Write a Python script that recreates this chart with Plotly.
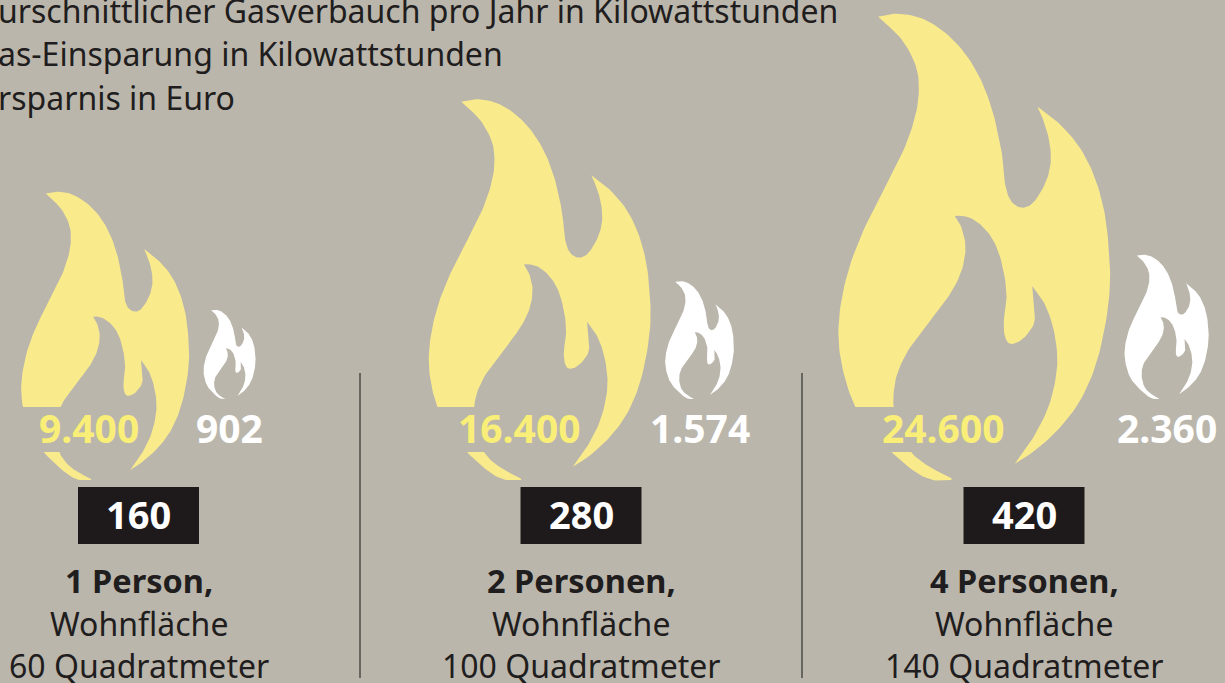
import numpy as np
import plotly.graph_objects as go

# --- data ---
consumption_kwh = [9400, 16400, 24600]
saving_kwh = [902, 1574, 2360]
saving_labels = ["902", "1.574", "2.360"]
consumption_labels = ["9.400", "16.400", "24.600"]
euro_saving = ["160", "280", "420"]
household = ["1 Person,", "2 Personen,", "4 Personen,"]
area_line = ["Wohnfläche", "Wohnfläche", "Wohnfläche"]
area_sqm = ["60 Quadratmeter", "100 Quadratmeter", "140 Quadratmeter"]
legend_lines = ["urschnittlicher Gasverbauch pro Jahr in Kilowattstunden",
                "as-Einsparung in Kilowattstunden",
                "rsparnis in Euro"]

BG = "#BBB6AB"; YEL = "#F9EB8C"; YEL_T = "#F9EF78"; DARK = "#1E1A1B"; TXT = "#1F1D1D"
REF = 24600.0
col_center = [138.5, 581, 1024]
y_cx = [105, 539.5, 974]
w_cx = [229.5, 699.5, 1166.5]
yel_label_x = [88.5, 519.5, 943]
wht_label_x = [229, 699.5, 1167]
band_left = [10, 420, 830]
band_right = [142, 583, 1007]
FONT = "Noto Sans"

# flame glyph: smooth runs between sharp corners, drawn in glyph units
FLAME = [[(175,47),(230,38),(300,50),(370,90),(430,150),(480,230),(515,320),(535,400),(548,470),(555,545),(572,598),(605,620),(640,605),(675,550),(692,490),(690,430),(675,370),(653,317)],
         [(653,317),(720,370),(780,440),(825,530),(855,640),(868,760),(870,860),(855,980),(825,1100),(780,1200),(720,1280),(650,1345),(585,1388)],
         [(585,1388),(640,1310),(685,1220),(708,1130),(712,1060),(700,980),(675,910),(637,855)],
         [(637,855),(645,950),(630,990),(600,1020),(570,1028),(555,1005),(552,960),(560,900),(555,830),(535,750),(505,695),(465,658),(430,645),(405,645)],
         [(405,645),(425,680),(437,740),(425,810),(390,880),(330,960),(270,1040),(235,1110),(222,1170),(222,1222),(240,1300),(275,1355),(325,1395),(395,1432)],
         [(395,1432),(395,1437)],
         [(395,1437),(340,1437),(285,1412),(217,1355),(150,1285),(108,1222),(75,1130),(57,1030),(60,930),(85,810),(130,690),(190,570),(250,450),(285,350),(297,270),(288,195),(245,115),(175,47)]]


def smooth(runs):
    xs, ys = [], []
    for run in runs:
        p = np.array(run, float)
        if len(p) < 3:
            xs += list(p[:, 0]); ys += list(p[:, 1]); continue
        q = np.vstack([2*p[0]-p[1], p, 2*p[-1]-p[-2]])
        for i in range(1, len(q)-2):
            t = np.linspace(0, 1, 8, endpoint=False)[:, None]
            a, b, c, d = q[i-1], q[i], q[i+1], q[i+2]
            s = 0.5*((2*b)+(-a+c)*t+(2*a-5*b+4*c-d)*t**2+(-a+3*b-3*c+d)*t**3)
            xs += list(s[:, 0]); ys += list(s[:, 1])
        xs.append(p[-1, 0]); ys.append(p[-1, 1])
    return np.array(xs), np.array(ys)


def flame(fig, value, cx, bottom, color):
    k = np.sqrt(value/REF)/3.0     # area proportional to value
    x, y = smooth(FLAME)
    fig.add_trace(go.Scatter(x=cx+(x-462.5)*k, y=bottom+(y-1437)*k, mode="lines", fill="toself",
                             fillcolor=color, line=dict(width=0, color=color), hoverinfo="skip", showlegend=False))


fig = go.Figure()
for i in range(3):
    flame(fig, consumption_kwh[i], y_cx[i], 480, YEL)
    flame(fig, saving_kwh[i], w_cx[i], 399, "#FFFFFF")


def txt(x, y, s, size, color, bold=False, anchor="center", xshift=0):
    fig.add_annotation(x=x, y=y, text=f"<b>{s}</b>" if bold else s, showarrow=False, xanchor=anchor, yanchor="middle",
                       xref="x", yref="y", font=dict(family=FONT, size=size, color=color), align=anchor,
                       borderpad=0, borderwidth=0, xshift=xshift)


shapes = []
for i in range(3):
    c = col_center[i]
    # knock-out band the value label sits in
    shapes.append(dict(type="rect", x0=band_left[i], x1=band_right[i], y0=407, y1=452, fillcolor=BG, line=dict(width=0), xref="x", yref="y"))
    shapes.append(dict(type="rect", x0=c-60.5, x1=c+60.5, y0=487, y1=544, fillcolor=DARK, line=dict(width=0), xref="x", yref="y"))
    txt(c, 514, euro_saving[i], 38, "#FFFFFF", True)
    txt(yel_label_x[i], 427, consumption_labels[i], 39, YEL_T, True)
    txt(wht_label_x[i], 427, saving_labels[i], 39, "#FFFFFF", True)
    txt(c, 580, household[i], 32.5, TXT, True)
    txt(c, 623, area_line[i], 32, TXT)
    txt(c, 665, area_sqm[i], 32, TXT)
for sx in (360, 802):
    shapes.append(dict(type="line", x0=sx, x1=sx, y0=373, y1=678, line=dict(color="#4B4A47", width=1.5), xref="x", yref="y"))
for ly, s in zip((10, 53, 97), legend_lines):
    txt(0, ly, s, 32, TXT, False, "left", xshift=-2)

fig.update_layout(width=1225, height=683, margin=dict(l=0, r=0, t=0, b=0), autosize=False,
                  paper_bgcolor=BG, plot_bgcolor=BG, shapes=shapes, showlegend=False)
fig.update_xaxes(range=[0, 1225], visible=False, fixedrange=True)
fig.update_yaxes(range=[683, 0], visible=False, fixedrange=True)
fig.write_html("out.html", config={"displayModeBar": False},
               post_script="document.body.style.margin='0';document.body.style.overflow='hidden';document.body.style.background='%s';" % BG)
